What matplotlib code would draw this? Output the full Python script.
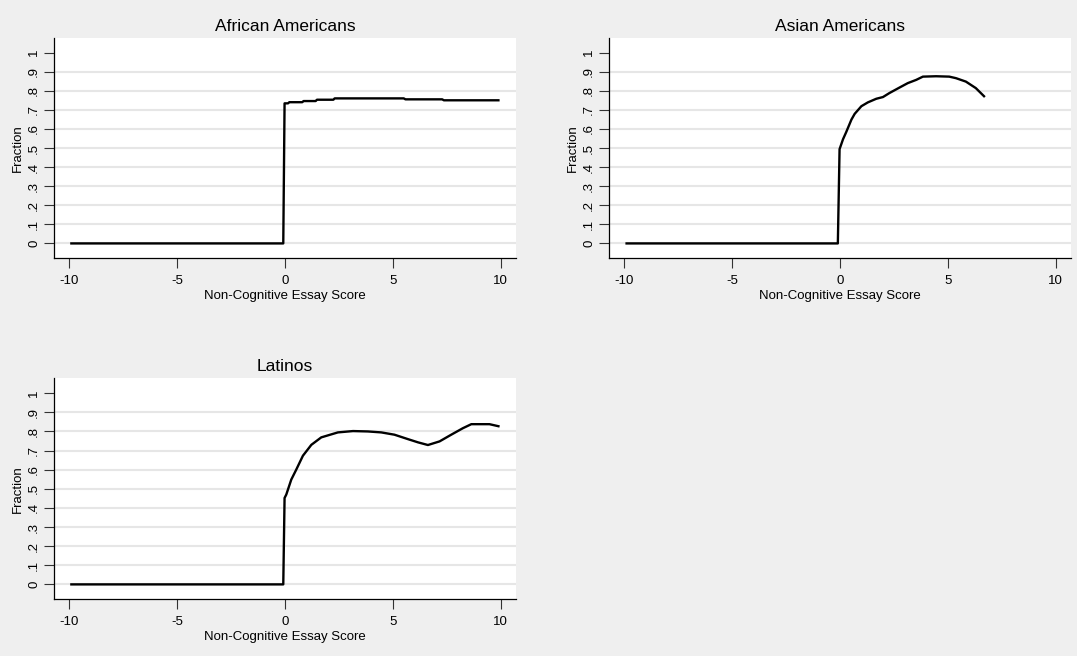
import matplotlib
matplotlib.use("Agg")
import matplotlib.pyplot as plt

plt.rcParams['font.family'] = ['Liberation Sans', 'DejaVu Sans']

# ---- data ----
titles = ["African Americans", "Asian Americans", "Latinos"]
x_label = "Non-Cognitive Essay Score"
y_label = "Fraction"
x_ticks = [-10, -5, 0, 5, 10]
y_ticks = [0, 0.1, 0.2, 0.3, 0.4, 0.5, 0.6, 0.7, 0.8, 0.9, 1.0]
y_tick_labels = ["0", ".1", ".2", ".3", ".4", ".5", ".6", ".7", ".8", ".9", "1"]

aa_x = [-9.95, -0.08, -0.02, 0.14, 0.20, 0.80, 0.86, 1.42, 1.48, 2.24, 2.30,
        5.50, 5.58, 7.28, 7.36, 9.94]
aa_y = [0.0, 0.0, 0.734, 0.734, 0.740, 0.740, 0.746, 0.746, 0.753, 0.753, 0.760,
        0.760, 0.755, 0.755, 0.750, 0.750]

as_x = [-9.94, -0.10, -0.02, 0.14, 0.29, 0.53, 0.68, 0.99, 1.29, 1.68, 1.99,
        2.29, 2.76, 3.14, 3.53, 3.84, 4.45, 5.06, 5.37, 5.83, 6.29, 6.71]
as_y = [0.0, 0.0, 0.494, 0.546, 0.584, 0.649, 0.679, 0.719, 0.739, 0.758, 0.767,
        0.788, 0.817, 0.840, 0.857, 0.874, 0.876, 0.874, 0.866, 0.848, 0.814, 0.767]

la_x = [-9.95, -0.08, -0.02, 0.06, 0.29, 0.52, 0.83, 1.22, 1.68, 2.45, 3.15,
        3.84, 4.46, 5.07, 5.69, 6.16, 6.62, 7.16, 7.70, 8.24, 8.63, 9.47, 9.94]
la_y = [0.0, 0.0, 0.452, 0.470, 0.548, 0.600, 0.673, 0.730, 0.769, 0.795, 0.802,
        0.800, 0.795, 0.783, 0.760, 0.743, 0.729, 0.748, 0.783, 0.817, 0.838, 0.838, 0.826]

series = [(aa_x, aa_y), (as_x, as_y), (la_x, la_y)]

# ---- layout ----
W, H = 1077, 656
fig = plt.figure(figsize=(W / 100, H / 100), dpi=100)
bg = "#EFEFEF"
fig.patch.set_facecolor(bg)

positions = [
    (54 / W, 1 - 258.3 / H, 462 / W, 220.6 / H),
    (609 / W, 1 - 258.3 / H, 462 / W, 220.6 / H),
    (54 / W, 1 - 599.3 / H, 462 / W, 221.0 / H),
]

for pos, title, (xs, ys) in zip(positions, titles, series):
    ax = fig.add_axes(pos)
    ax.set_facecolor("white")
    ax.set_xlim(-10.7, 10.7)
    ax.set_ylim(-0.078, 1.078)
    for yv in y_ticks[:-1]:
        ax.axhline(yv, color="#E6E6E6", lw=1.5, zorder=1)
    ax.plot(xs, ys, color="black", lw=1.7, zorder=3,
            solid_joinstyle="round", solid_capstyle="butt")
    for s in ["top", "right"]:
        ax.spines[s].set_visible(False)
    for s in ["left", "bottom"]:
        ax.spines[s].set_linewidth(0.9)
        ax.spines[s].set_color("black")
    ax.set_xticks(x_ticks)
    ax.set_xticklabels([str(t) for t in x_ticks])
    ax.set_yticks(y_ticks)
    ax.set_yticklabels(y_tick_labels, rotation=90, va="center")
    ax.tick_params(axis="both", length=7, width=0.8, color="#333333",
                   labelsize=9.5)
    ax.tick_params(axis="x", pad=5)
    ax.tick_params(axis="y", pad=3)
    ax.set_xlabel(x_label, fontsize=9.5, labelpad=2.5)
    ax.set_ylabel(y_label, fontsize=9.5, labelpad=3)
    ax.set_title(title, fontsize=12.5, pad=5)

fig.savefig("out.png", dpi=100, facecolor=bg)
